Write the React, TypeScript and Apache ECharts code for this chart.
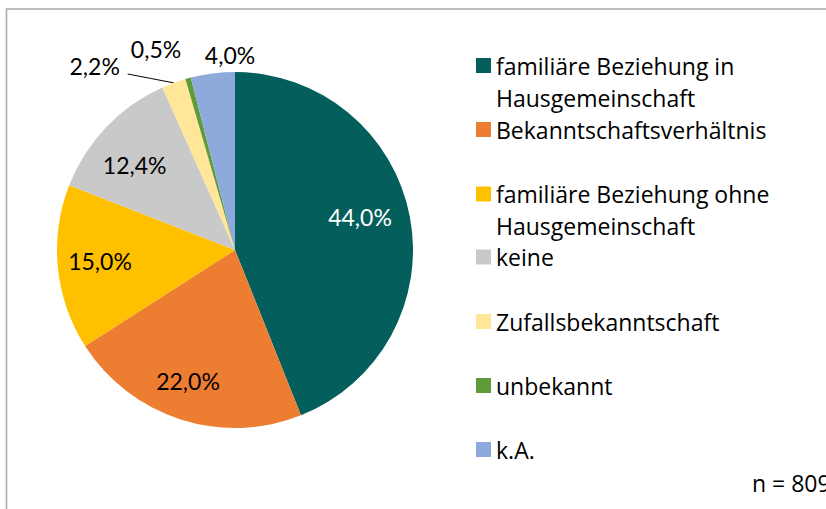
import React, { useEffect, useRef } from "react";
import * as echarts from "echarts";

const CATEGORIES = [
  "familiäre Beziehung in\nHausgemeinschaft",
  "Bekanntschaftsverhältnis",
  "familiäre Beziehung ohne\nHausgemeinschaft",
  "keine",
  "Zufallsbekanntschaft",
  "unbekannt",
  "k.A.",
];
const VALUES = [44.0, 22.0, 15.0, 12.4, 2.2, 0.5, 4.0];
const COLORS = ["#035E5C", "#ED7D31", "#FFC000", "#C9C9C9", "#FFE699", "#5F9A3B", "#8EA9DB"];
const LABEL_COLORS = ["#ffffff", "#000000", "#000000", "#000000", "#000000", "#000000", "#000000"];
const SAMPLE_NOTE = "n = 809";

// layout (pixels)
const CENTER = [235, 250];
const RADIUS = 178;
const LABEL_POS = [
  [360, 216.5],
  [188, 381],
  [100, 261],
  [134.7, 165],
  [94.7, 66],
  [156, 49],
  [230, 54.5],
];
const LEGEND_CENTERS = [65.5, 129.5, 194, 257, 321.5, 385.5, 449.5];
const FONT = "Lato, 'Open Sans', sans-serif";
const LEGEND_FONT = "'Open Sans', Lato, sans-serif";
const LEGEND_SIZE = 23;

export default function App() {
  const ref = useRef<HTMLDivElement>(null);
  useEffect(() => {
    if (!ref.current) return;
    const chart = echarts.init(ref.current, undefined, { renderer: "svg" });
    const fmt = (v: number) => v.toFixed(1).replace(".", ",") + "%";
    const LINE_H = 32;
    const legends = CATEGORIES.map((name, i) => {
      const lines = name.includes("\n") ? 3 : 1;
      return {
        data: [name],
        orient: "vertical",
        left: 476,
        top: LEGEND_CENTERS[i] - (lines * LINE_H) / 2,
        itemWidth: 15,
        itemHeight: 15,
        itemGap: 0,
        padding: 0,
        icon: "rect",
        selectedMode: false,
        formatter: (n: string) => (n.includes("\n") ? "\n" + n : n),
        textStyle: { fontFamily: LEGEND_FONT, fontSize: LEGEND_SIZE, lineHeight: LINE_H, color: "#000" },
      };
    });
    chart.setOption({
      animation: false,
      backgroundColor: "#ffffff",
      legend: legends,
      graphic: [
        {
          type: "rect",
          z: -10,
          shape: { x: 6.5, y: 9, width: 1000, height: 1000 },
          style: { fill: "none", stroke: "#a9a9a9", lineWidth: 1.5 },
          silent: true,
        },
        {
          type: "text",
          left: 752,
          top: 471,
          style: { text: SAMPLE_NOTE, fontFamily: LEGEND_FONT, fontSize: LEGEND_SIZE, fill: "#000" },
          silent: true,
        },
      ],
      series: [
        {
          type: "pie",
          center: CENTER,
          radius: RADIUS,
          startAngle: 90,
          clockwise: true,
          silent: true,
          itemStyle: { borderWidth: 0 },
          label: {
            show: true,
            position: "inside",
            fontFamily: FONT,
            fontSize: 23,
            formatter: (p: any) => fmt(p.value),
          },
          labelLine: { show: false },
          labelLayout: (params: any) => {
            const i = params.dataIndex;
            const [x, y] = LABEL_POS[i];
            const out: any = { x, y, align: "center", verticalAlign: "middle" };
            if (i === 4 && params.labelLinePoints) {
              const start = params.labelLinePoints[0];
              const end = [x + 33, y + 8];
              out.labelLinePoints = [start, [(start[0] + end[0]) / 2, (start[1] + end[1]) / 2], end];
            }
            return out;
          },
          data: CATEGORIES.map((name, i) => ({
            name,
            value: VALUES[i],
            itemStyle: { color: COLORS[i] },
            label: {
              color: LABEL_COLORS[i],
              position: i >= 4 ? "outside" : "inside",
            },
            labelLine: {
              show: i === 4,
              length: 10,
              length2: 20,
              lineStyle: { color: "#000", width: 1 },
            },
          })),
        },
      ],
    });
    return () => chart.dispose();
  }, []);
  return (
    <div
      ref={ref}
      style={{ position: "fixed", left: 0, top: 0, width: 826, height: 509 }}
    />
  );
}
